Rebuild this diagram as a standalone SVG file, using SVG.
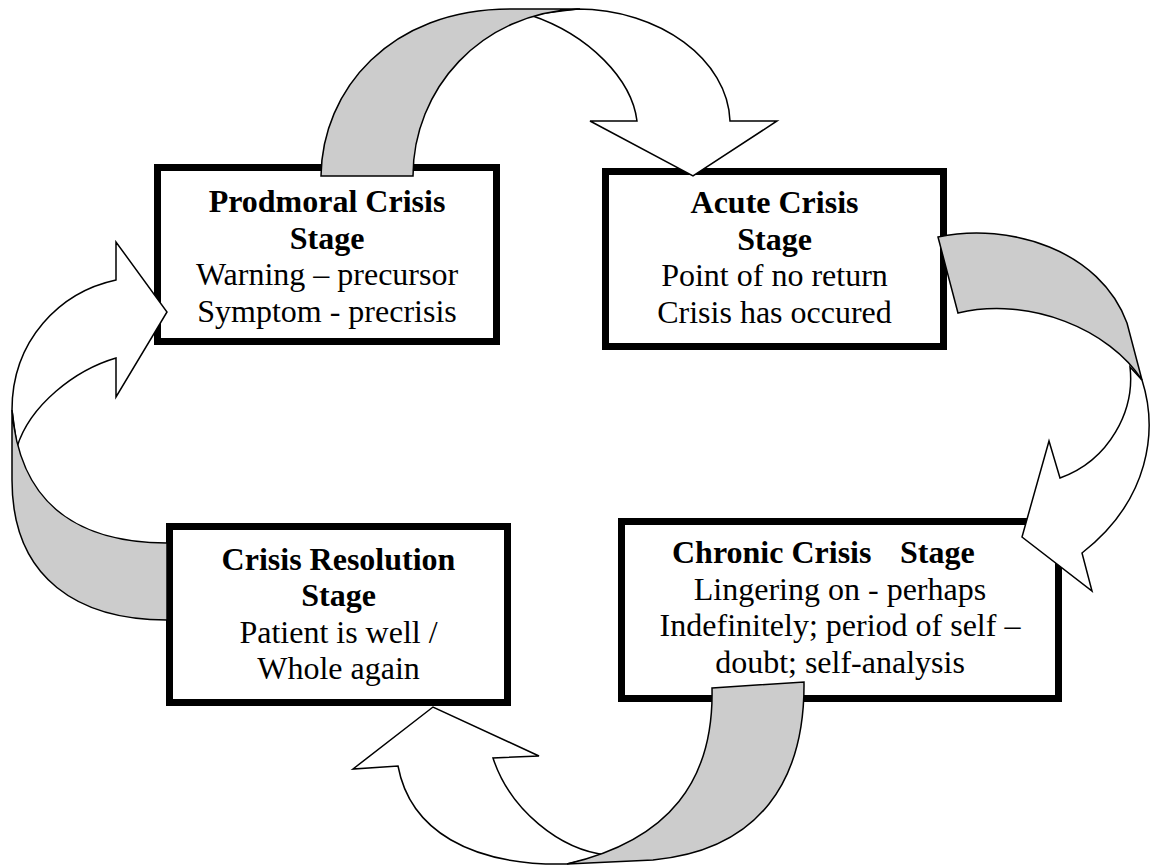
<svg xmlns="http://www.w3.org/2000/svg" width="1154" height="865" viewBox="0 0 1154 865">
<style>
.box{fill:#fff;stroke:#000;stroke-width:7}
.t{font-family:"Liberation Serif","Times New Roman",serif;font-size:32px;fill:#000;text-anchor:middle}
.b{font-weight:bold}
.back{fill:#cccccc;stroke:#000;stroke-width:1.5;stroke-linejoin:miter}
.front{fill:#fff;stroke:#000;stroke-width:1.5;stroke-linejoin:miter}
</style>
<rect width="1154" height="865" fill="#fff"/>
<g id="prodmoral">
<rect class="box" x="157.5" y="167.5" width="339" height="174"/>
<text class="t b" x="327" y="212">Prodmoral Crisis</text>
<text class="t b" x="327" y="248.5">Stage</text>
<text class="t" x="327" y="285">Warning – precursor</text>
<text class="t" x="327" y="321.5">Symptom - precrisis</text>
</g>
<g id="acute">
<rect class="box" x="605.5" y="171.5" width="338" height="175"/>
<text class="t b" x="774.5" y="213">Acute Crisis</text>
<text class="t b" x="774.5" y="249.5">Stage</text>
<text class="t" x="774.5" y="286">Point of no return</text>
<text class="t" x="774.5" y="322.5">Crisis has occured</text>
</g>
<g id="resolution">
<rect class="box" x="169.5" y="526.5" width="338" height="176"/>
<text class="t b" x="338.5" y="570">Crisis Resolution</text>
<text class="t b" x="338.5" y="606">Stage</text>
<text class="t" x="338.5" y="643">Patient is well /</text>
<text class="t" x="338.5" y="679">Whole again</text>
</g>
<g id="chronic">
<rect class="box" x="621.5" y="521.5" width="437" height="177"/>
<text class="t b" x="672" y="563" style="text-anchor:start;white-space:pre" xml:space="preserve">Chronic Crisis   <tspan x="900">Stage</tspan></text>
<text class="t" x="840" y="600">Lingering on - perhaps</text>
<text class="t" x="840" y="636">Indefinitely; period of self –</text>
<text class="t" x="840" y="673">doubt; self-analysis</text>
</g>
<g id="connectors">
<g id="arrow-top">
<path class="front" d="M530,15 L577,9 C660,9 728,60 730,121 L777,121 L693,176 L590,121 L637,121 C632,80 590,35 530,15 Z"/>
<path class="back" d="M321,176 C322,90 390,9 510,9 L580,9 C480,12 413,90 413,176 Z"/>
</g>
<g id="arrow-right">
<path class="front" d="M1130,367 L1142,380 C1158,430 1150,500 1082,553 L1092,591 L1022,537 L1049,441 L1060,478 C1110,460 1135,410 1130,367 Z"/>
<path class="back" d="M938,237 C1010,222 1100,250 1127,323 L1142,380 C1110,330 1030,296 958,313 Z"/>
</g>
<g id="arrow-bottom">
<path class="front" d="M567,864 C470,866 410,830 398,766 L353,769 L433,707 L539,756 L493,758 C510,810 560,850 607,855 Z"/>
<path class="back" d="M712,688 L804,682 C805,780 760,850 653,860 L567,864 C670,840 714,780 712,688 Z"/>
</g>
<g id="arrow-left">
<path class="front" d="M12,410 C12,340 60,292 116,280 L116,242 L167,312 L116,397 L116,358 C75,370 30,405 17,447 Z"/>
<path class="back" d="M12,410 L12,480 C12,580 80,620 167,620 L167,543 C85,543 20,510 12,410 Z"/>
</g>
</g>
</svg>
